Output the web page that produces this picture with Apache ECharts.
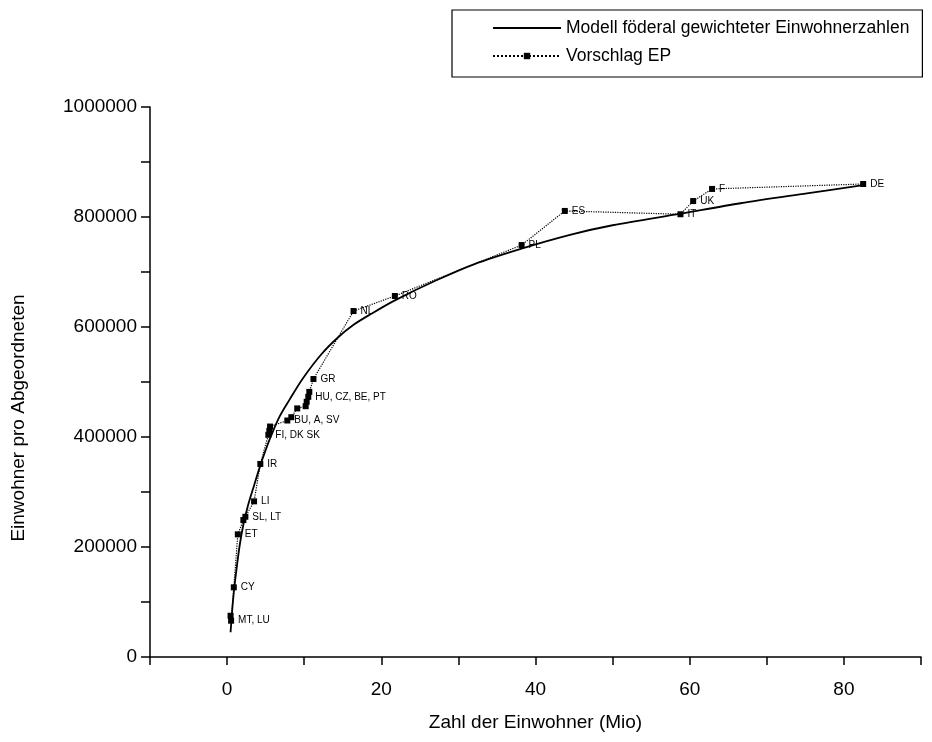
<!DOCTYPE html>
<html>
<head>
<meta charset="utf-8">
<script src="https://cdn.jsdelivr.net/npm/echarts@6/dist/echarts.min.js"></script>
<style>
  html, body { margin: 0; padding: 0; background: #fff; }
  #chart { width: 932px; height: 742px; }
</style>
</head>
<body>
<div id="chart"></div>
<script>
// Modell: föderal gewichtete Einwohnerzahlen (Kurve)
var modelX = [0.45, 0.75, 1.05, 1.6, 2.1, 2.7, 3.5, 4.3, 5.1, 5.7, 6.8, 8.1, 9.8, 12.2, 14.3, 16.4, 18.7, 21.7, 27, 32, 38.3, 44.6, 50, 58.8, 66.6, 75.2, 82.5];
var modelY = [45000, 100000, 140000, 200000, 240000, 275000, 312000, 348000, 380000, 402000, 437000, 468000, 506000, 550000, 580000, 604000, 624000, 648000, 684000, 714000, 743000, 768000, 785000, 806000, 825000, 843000, 858000];

// Vorschlag EP (Punkte, nach Einwohnerzahl sortiert)
var vorX = [0.45, 0.52, 0.87, 1.39, 2.11, 2.37, 3.5, 4.31, 5.35, 5.48, 5.57, 7.81, 8.33, 9.1, 10.19, 10.32, 10.53, 10.66, 11.2, 16.4, 21.76, 38.2, 43.8, 58.8, 60.45, 62.9, 82.5];
var vorY = [75000, 66000, 126700, 223000, 249000, 255000, 283000, 351000, 404000, 411000, 419000, 430000, 436000, 452000, 456000, 464000, 473000, 482000, 505500, 629000, 656400, 749000, 811000, 805000, 829000, 851000, 860000];
var vorLabels = ['', 'MT, LU', 'CY', 'ET', '', 'SL, LT', 'LI', 'IR', 'FI, DK SK', '', '', 'BU, A, SV', '', '', '', '', 'HU, CZ, BE, PT', '', 'GR', 'NL', 'RO', 'PL', 'ES', 'IT', 'UK', 'F', 'DE'];

var xTickLabels = [0, 20, 40, 60, 80];
var yTickLabels = [0, 200000, 400000, 600000, 800000, 1000000];

var font = 'Liberation Sans, Arial, sans-serif';
var chart = echarts.init(document.getElementById('chart'));

var modelData = modelX.map(function (x, i) { return [x, modelY[i]]; });
var vorData = vorX.map(function (x, i) { return [x, vorY[i]]; });

chart.setOption({
  animation: false,
  textStyle: { fontFamily: font, color: '#000' },
  grid: { left: 150, right: 11, top: 107, bottom: 85 },
  legend: {
    orient: 'vertical',
    left: 452,
    top: 10,
    padding: [9, 13, 12, 40],
    itemWidth: 68,
    itemHeight: 8,
    itemGap: 10,
    borderColor: '#000',
    borderWidth: 1.2,
    textStyle: { fontSize: 17.5, color: '#000', fontFamily: font },
    data: [
      { name: 'Modell föderal gewichteter Einwohnerzahlen', itemStyle: { opacity: 0 } },
      { name: 'Vorschlag EP' }
    ]
  },
  xAxis: {
    type: 'value',
    min: -10,
    max: 90,
    interval: 10,
    name: 'Zahl der Einwohner (Mio)',
    nameLocation: 'middle',
    nameGap: 56,
    nameTextStyle: { fontSize: 19, color: '#000', fontFamily: font },
    splitLine: { show: false },
    axisLine: { onZero: false, lineStyle: { color: '#000', width: 1.5 } },
    axisTick: { length: 8, lineStyle: { color: '#000', width: 1.5 } },
    axisLabel: {
      fontSize: 19, color: '#000', margin: 23,
      formatter: function (v) { return xTickLabels.indexOf(v) >= 0 ? String(v) : ''; }
    }
  },
  yAxis: {
    type: 'value',
    min: 0,
    max: 1000000,
    interval: 100000,
    splitLine: { show: false },
    axisLine: { show: true, onZero: false, lineStyle: { color: '#000', width: 1.5 } },
    axisTick: { show: true, length: 9, lineStyle: { color: '#000', width: 1.5 } },
    axisLabel: {
      fontSize: 19, color: '#000', margin: 13,
      formatter: function (v) { return yTickLabels.indexOf(v) >= 0 ? String(v) : ''; }
    }
  },
  graphic: [{
    type: 'text',
    x: 19,
    y: 418,
    rotation: Math.PI / 2,
    style: {
      text: 'Einwohner pro Abgeordneten',
      fontSize: 19,
      fontFamily: font,
      fill: '#000',
      textAlign: 'center',
      textVerticalAlign: 'middle'
    }
  }],
  series: [
    {
      name: 'Modell föderal gewichteter Einwohnerzahlen',
      type: 'line',
      data: modelData,
      smooth: 0.3,
      symbol: 'none',
      lineStyle: { color: '#000', width: 1.8 },
      itemStyle: { color: '#000' },
      z: 2
    },
    {
      name: 'Vorschlag EP',
      type: 'line',
      data: vorData,
      symbol: 'rect',
      symbolSize: 6,
      lineStyle: { color: '#000', width: 1.2, type: 'dotted' },
      itemStyle: { color: '#000' },
      label: {
        show: true,
        position: 'right',
        distance: 4,
        fontSize: 10,
        color: '#000',
        fontFamily: font,
        formatter: function (p) { return vorLabels[p.dataIndex]; }
      },
      labelLayout: { hideOverlap: false },
      z: 3
    }
  ]
});
</script>
</body>
</html>
